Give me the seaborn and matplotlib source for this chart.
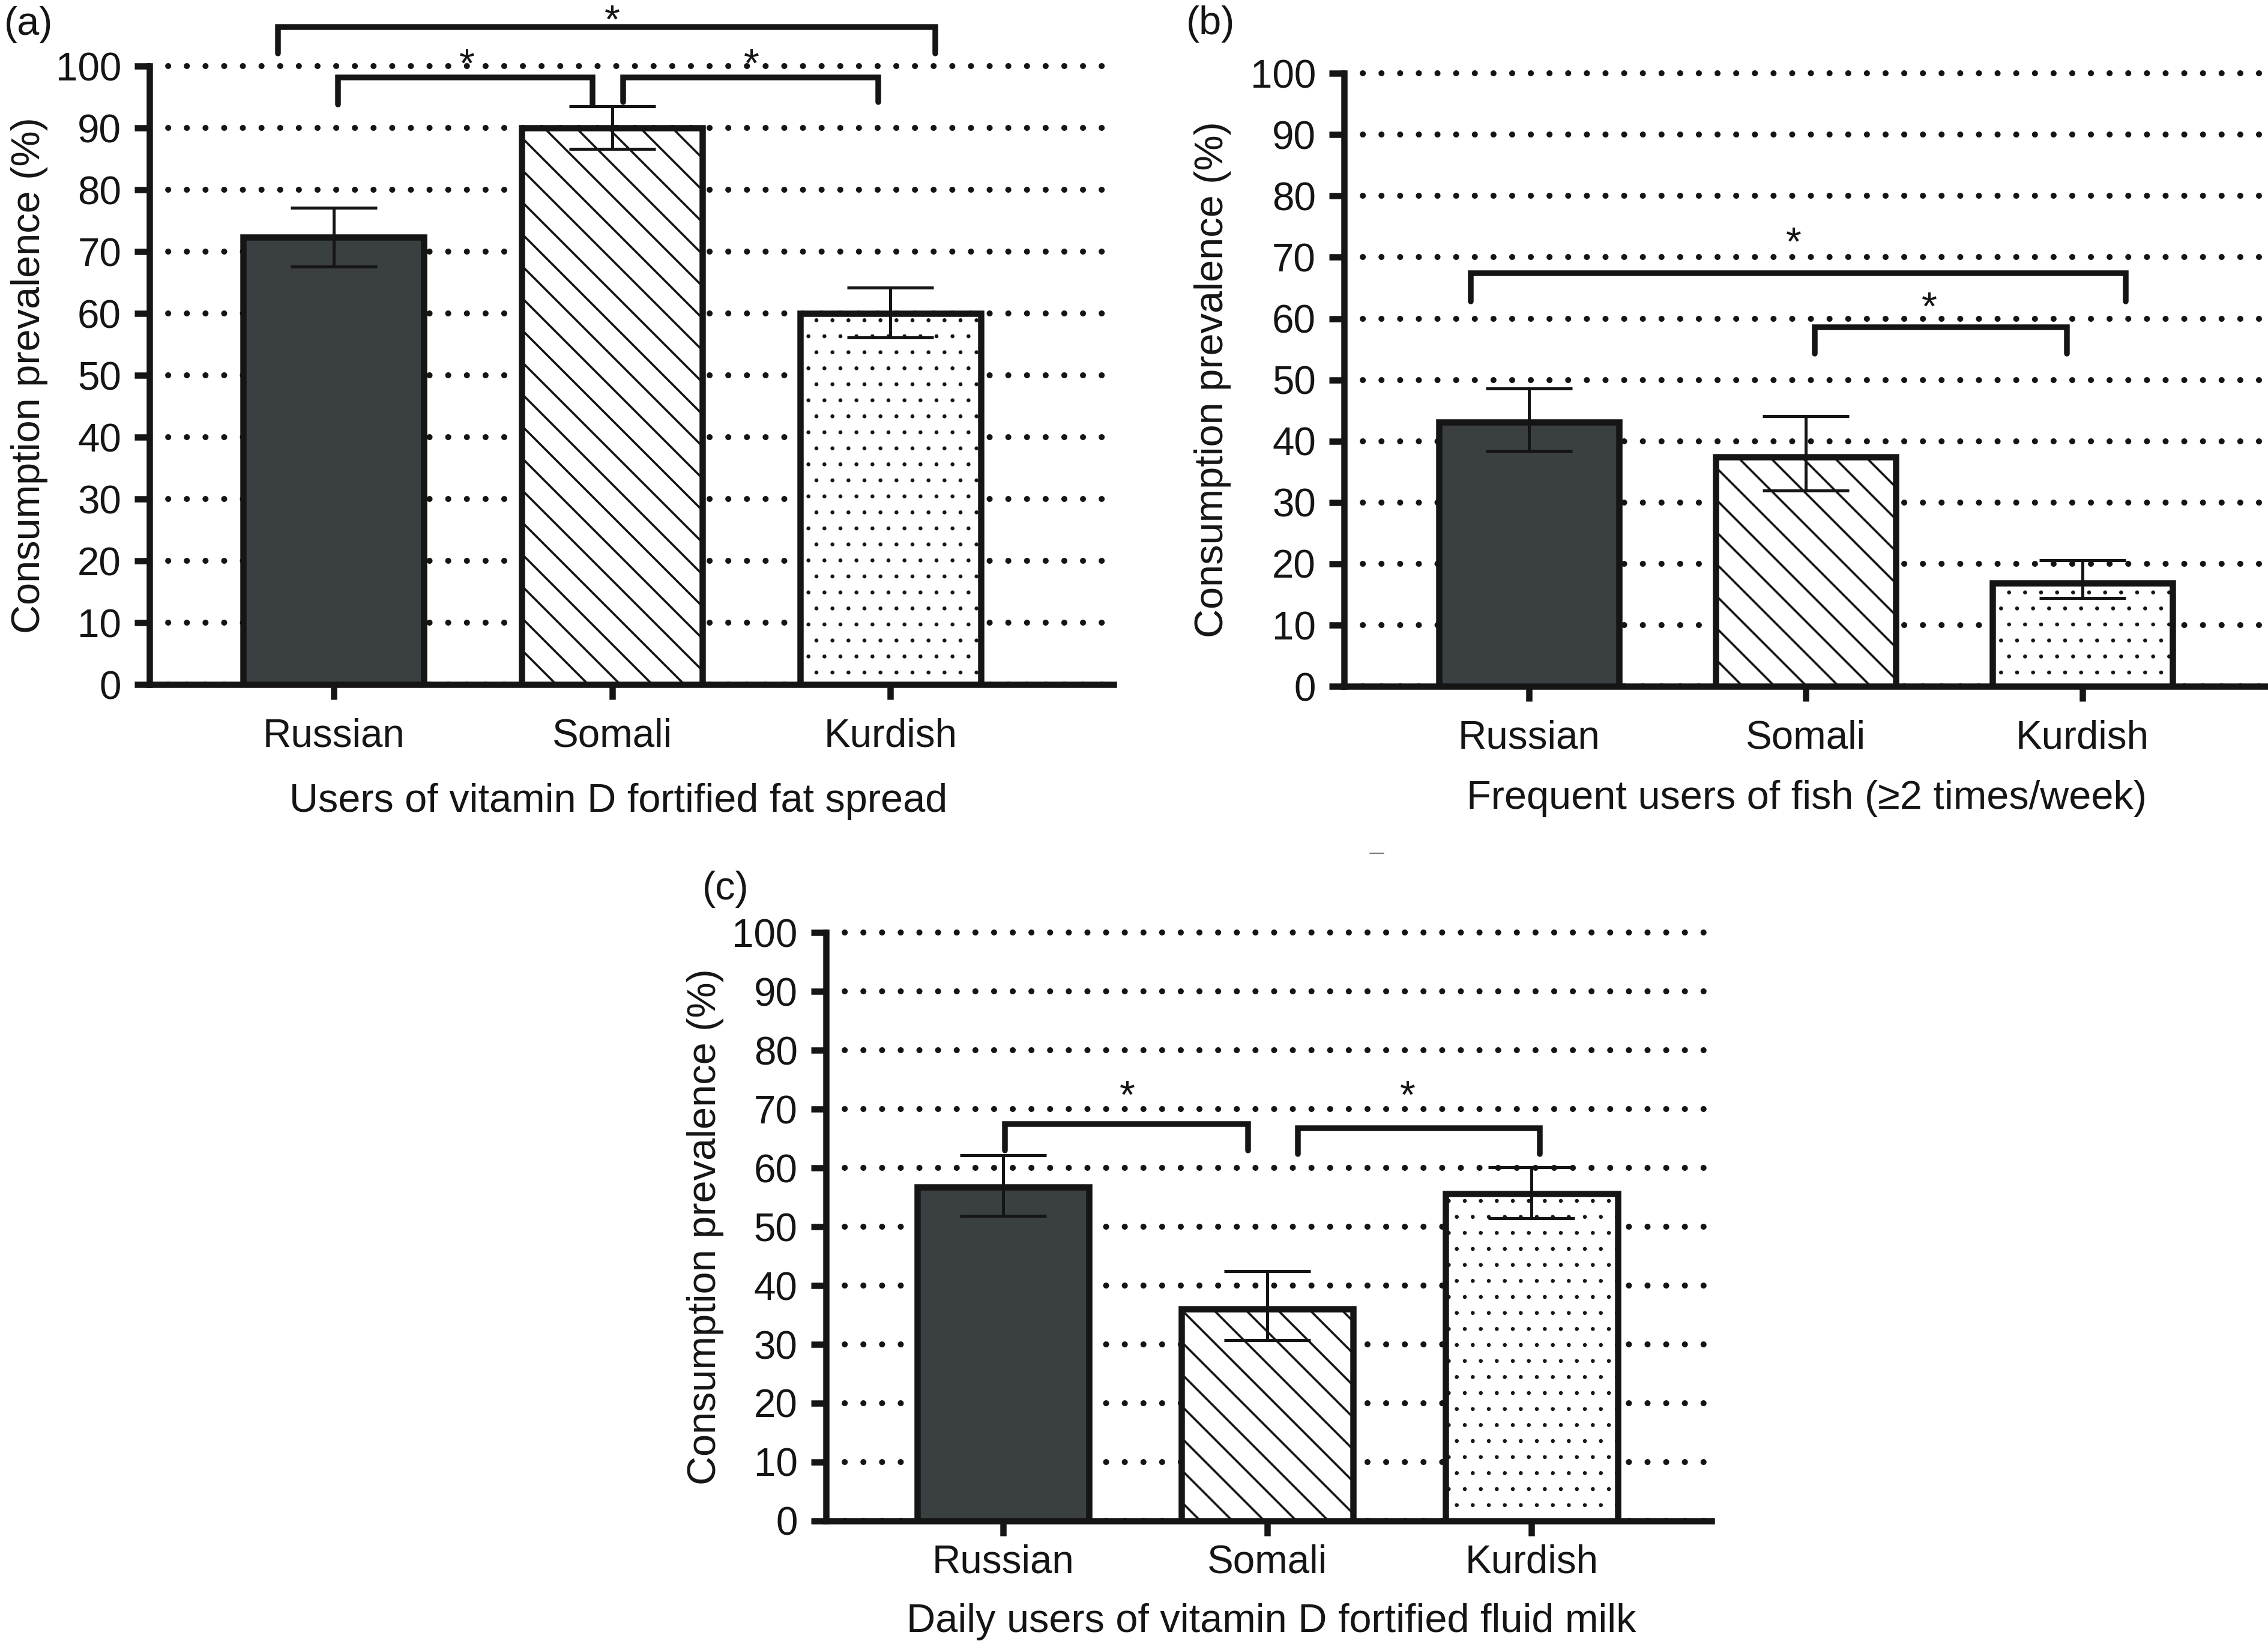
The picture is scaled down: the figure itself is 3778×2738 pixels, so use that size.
import matplotlib
matplotlib.use('Agg')
import matplotlib.pyplot as plt
import seaborn as sns
import pandas as pd
from matplotlib.lines import Line2D

# data (consumption prevalence, %)
groups = ['Russian', 'Somali', 'Kurdish']

spread_mean = [72.3, 90.0, 60.0]
spread_low = [67.6, 86.6, 56.1]
spread_high = [77.1, 93.5, 64.2]

fish_mean = [43.1, 37.4, 16.9]
fish_low = [38.4, 31.9, 14.4]
fish_high = [48.6, 44.1, 20.6]

milk_mean = [56.7, 36.0, 55.6]
milk_low = [51.8, 30.7, 51.4]
milk_high = [62.2, 42.5, 60.1]

xlabels = ['Users of vitamin D fortified fat spread',
           'Frequent users of fish (\u22652 times/week)',
           'Daily users of vitamin D fortified fluid milk']
panel_tags = ['(a)', '(b)', '(c)']

# significance brackets: (left x, right x, top, left drop, right drop)
brackets_a = [(-0.20, 2.16, 106.3, 102.0, 102.0),
              (0.015, 0.93, 98.2, 93.8, 93.8),
              (1.04, 1.955, 98.2, 94.2, 94.2)]
stars_a = [(1.0, 107.0), (0.48, 100.0), (1.50, 100.0)]
brackets_b = [(-0.21, 2.156, 67.4, 62.8, 62.8),
              (1.033, 1.944, 58.6, 54.3, 54.3)]
stars_b = [(0.956, 72.0), (1.447, 61.5)]
brackets_c = [(0.008, 0.927, 67.5, 63.0, 63.0),
              (1.115, 2.03, 66.7, 62.4, 62.4)]
stars_c = [(0.47, 71.9), (1.53, 71.9)]

bar_fills = ['#3a3f41', 'white', 'white']
hatches = ['', '\\', '.']
ink = '#151515'

DPI = 160


def px(v):
    # pixel size in the saved image -> points
    return v * 72.0 / DPI


sns.set_style('ticks')
plt.rcParams['font.family'] = ['Liberation Sans', 'DejaVu Sans']
plt.rcParams['hatch.linewidth'] = px(3.6)

fig = plt.figure(figsize=(3778 / DPI, 2738 / DPI), dpi=DPI)

panels = [
    (spread_mean, spread_low, spread_high, brackets_a, stars_a,
     [0.0659, 0.5836, 0.425, 0.3762], (-0.661, 2.80), 11),
    (fish_mean, fish_low, fish_high, brackets_b, stars_b,
     [0.5926, 0.5825, 0.4074, 0.3729], (-0.668, 2.67), 11),
    (milk_mean, milk_low, milk_high, brackets_c, stars_c,
     [0.3641, 0.0749, 0.3905, 0.3578], (-0.67, 2.68), 5),
]

fs_text = 30
fs_tick = 29.5

axes = []
for mean, low, high, brackets, stars, rect, xlim, xpad in panels:
    ax = fig.add_axes(rect)
    df = pd.DataFrame({'group': groups, 'pct': mean})
    sns.barplot(data=df, x='group', y='pct', hue='group', palette=bar_fills,
                width=0.65, edgecolor=ink, linewidth=px(10.5), errorbar=None,
                legend=False, saturation=1, ax=ax, zorder=3)
    for patch, h in zip(ax.patches, hatches):
        patch.set_hatch(h)
        if h == '.':
            try:
                patch.set_hatch_linewidth(px(1.2))
            except AttributeError:
                pass

    # asymmetric error bars
    yerr = [[m - l for m, l in zip(mean, low)], [h - m for m, h in zip(mean, high)]]
    ax.errorbar(range(len(groups)), mean, yerr=yerr, fmt='none', ecolor=ink,
                elinewidth=px(5), capsize=px(72), capthick=px(5), zorder=5)

    # brackets and stars
    for x1, x2, top, d1, d2 in brackets:
        ax.plot([x1, x1, x2, x2], [d1, top, top, d2], color=ink, lw=px(9.5),
                clip_on=False, solid_joinstyle='miter', zorder=6)
    for sx, sy in stars:
        ax.text(sx, sy, '*', ha='center', va='center', fontsize=fs_text,
                color=ink, clip_on=False)

    ax.set_ylim(0, 100)
    ax.set_xlim(*xlim)
    ax.set_yticks(range(0, 101, 10))
    ax.set_xlabel('')
    ax.set_ylabel('')
    ax.yaxis.grid(True, linestyle=(0, (0.01, 3.1)), linewidth=px(10),
                  color=ink, dash_capstyle='round')
    for gl in ax.get_ygridlines():
        gl.set_clip_on(False)
    ax.xaxis.grid(False)
    ax.set_axisbelow(True)
    sns.despine(ax=ax)
    for side in ['left', 'bottom']:
        ax.spines[side].set_linewidth(px(10.5))
        ax.spines[side].set_color(ink)
    ax.tick_params(axis='both', width=px(10.5), length=px(25), color=ink,
                   labelsize=fs_tick, labelcolor=ink)
    ax.tick_params(axis='y', pad=px(22))
    ax.tick_params(axis='x', pad=px(xpad * 2.8))
    axes.append(ax)

# axis titles and panel tags
ylab_x = [0.0130, 0.5347, 0.3109]
xlab_pos = [(0.2727, 0.5124), (0.7966, 0.5142), (0.5606, 0.0135)]
tag_pos = [(0.0127, 0.985), (0.5337, 0.9854), (0.320, 0.459)]
for ax, yx, (xx, xy), (tx, ty), xl, tag in zip(axes, ylab_x, xlab_pos, tag_pos,
                                               xlabels, panel_tags):
    pos = ax.get_position()
    fig.text(yx, pos.y0 + pos.height / 2, 'Consumption prevalence (%)',
             rotation=90, ha='center', va='center', fontsize=fs_text, color=ink)
    fig.text(xx, xy, xl, ha='center', va='center', fontsize=fs_text, color=ink)
    fig.text(tx, ty, tag, ha='center', va='center', fontsize=fs_text, color=ink)

# small stray dash under panel (b)
fig.add_artist(Line2D([0.604, 0.610], [0.481, 0.481], transform=fig.transFigure,
                      color='#777777', lw=px(2)))

fig.savefig('out.png', dpi=DPI)
